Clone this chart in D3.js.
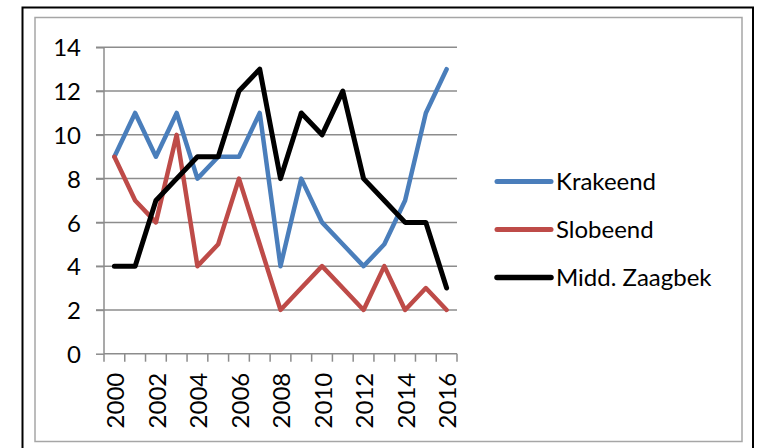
<!DOCTYPE html>
<html>
<head>
<meta charset="utf-8">
<script src="https://cdn.jsdelivr.net/npm/d3@7"></script>
<style>
  body { margin: 0; background: #fff; }
  text { font-family: Lato, "Open Sans", sans-serif; fill: #000; }
</style>
</head>
<body>
<div class="canvas"></div>
<script>
const WIDTH = 759;
const HEIGHT = 448;

// data
const years = d3.range(2000, 2017);
const krakeend = [9, 11, 9, 11, 8, 9, 9, 11, 4, 8, 6, 5, 4, 5, 7, 11, 13];
const slobeend = [9, 7, 6, 10, 4, 5, 8, 5, 2, 3, 4, 3, 2, 4, 2, 3, 2];
const zaagbek = [4, 4, 7, 8, 9, 9, 12, 13, 8, 11, 10, 12, 8, 7, 6, 6, 3];
const yTicks = [0, 2, 4, 6, 8, 10, 12, 14];

const series = [
  { name: 'Krakeend', values: krakeend, color: '#4a7ebb' },
  { name: 'Slobeend', values: slobeend, color: '#be4b48' },
  { name: 'Midd. Zaagbek', values: zaagbek, color: '#000000' }
];

// layout
const plot = { left: 104, right: 457, top: 47.3, bottom: 353.7 };
const gridGray = '#8c8c8c';
const fontSize = 24;

const svg = d3.select('.canvas')
  .append('svg')
    .attr('width', WIDTH)
    .attr('height', HEIGHT);

// frames
svg.append('path')
  .attr('d', 'M22.5,460 V7.5 H753 V460')
  .attr('fill', 'none')
  .attr('stroke', '#000')
  .attr('stroke-width', 2);

svg.append('rect')
  .attr('x', 35).attr('y', 17.5)
  .attr('width', 707).attr('height', 424)
  .attr('fill', 'none')
  .attr('stroke', '#a6a6a6')
  .attr('stroke-width', 1.5);

// scales
const x = d3.scaleBand()
  .domain(years)
  .range([plot.left, plot.right]);

const y = d3.scaleLinear()
  .domain([0, 14])
  .range([plot.bottom, plot.top]);

// gridlines
svg.append('g')
  .selectAll('line')
  .data(yTicks.filter(d => d > 0))
  .enter().append('line')
    .attr('x1', plot.left - 8)
    .attr('x2', plot.right)
    .attr('y1', d => y(d))
    .attr('y2', d => y(d))
    .attr('stroke', gridGray)
    .attr('stroke-width', 1.5);

// y axis
const yAxis = d3.axisLeft(y)
  .tickValues(yTicks)
  .tickSize(8)
  .tickPadding(15);

const yAxisGroup = svg.append('g')
  .attr('transform', `translate(${plot.left}, 0)`)
  .call(yAxis);

yAxisGroup.select('.domain').remove();
yAxisGroup.selectAll('line').attr('stroke', gridGray).attr('stroke-width', 1.5);
yAxisGroup.selectAll('text')
  .attr('font-size', fontSize)
  .attr('font-family', 'Lato, sans-serif')
  .attr('dy', '0.36em');

svg.append('line')
  .attr('x1', plot.left).attr('x2', plot.left)
  .attr('y1', plot.top).attr('y2', plot.bottom)
  .attr('stroke', gridGray)
  .attr('stroke-width', 1.5);

// x axis
const boundaries = years.map(d => x(d)).concat([plot.right]);

const xAxisGroup = svg.append('g');

xAxisGroup.append('line')
  .attr('x1', plot.left).attr('x2', plot.right)
  .attr('y1', plot.bottom).attr('y2', plot.bottom)
  .attr('stroke', gridGray)
  .attr('stroke-width', 1.5);

xAxisGroup.selectAll('.tick')
  .data(boundaries)
  .enter().append('line')
    .attr('class', 'tick')
    .attr('x1', d => d).attr('x2', d => d)
    .attr('y1', plot.bottom).attr('y2', plot.bottom + 8)
    .attr('stroke', gridGray)
    .attr('stroke-width', 1.5);

xAxisGroup.selectAll('text')
  .data(years.filter(d => d % 2 === 0))
  .enter().append('text')
    .attr('transform', d => `translate(${x(d) + x.bandwidth() / 2 + 1}, ${plot.bottom + 19}) rotate(-90)`)
    .attr('text-anchor', 'end')
    .attr('dy', '0.36em')
    .attr('font-size', fontSize)
    .text(d => d);

// lines
const line = d3.line()
  .x((d, i) => x(years[i]) + x.bandwidth() / 2)
  .y(d => y(d));

svg.append('g')
  .selectAll('path')
  .data(series)
  .enter().append('path')
    .attr('fill', 'none')
    .attr('stroke', d => d.color)
    .attr('stroke-width', d => d.color === '#000000' ? 5 : 4.5)
    .attr('stroke-linejoin', 'round')
    .attr('stroke-linecap', 'round')
    .attr('d', d => line(d.values));

// legend
const legend = svg.append('g')
  .attr('transform', 'translate(497, 181.5)');

const items = legend.selectAll('g')
  .data(series)
  .enter().append('g')
    .attr('transform', (d, i) => `translate(0, ${i * 48})`);

items.append('line')
  .attr('x1', 0).attr('x2', 54)
  .attr('stroke', d => d.color)
  .attr('stroke-width', d => d.color === '#000000' ? 5.5 : 5)
  .attr('stroke-linecap', 'round');

items.append('text')
  .attr('x', 59)
  .attr('dy', '0.36em')
  .attr('font-size', fontSize)
  .text(d => d.name);
</script>
</body>
</html>
